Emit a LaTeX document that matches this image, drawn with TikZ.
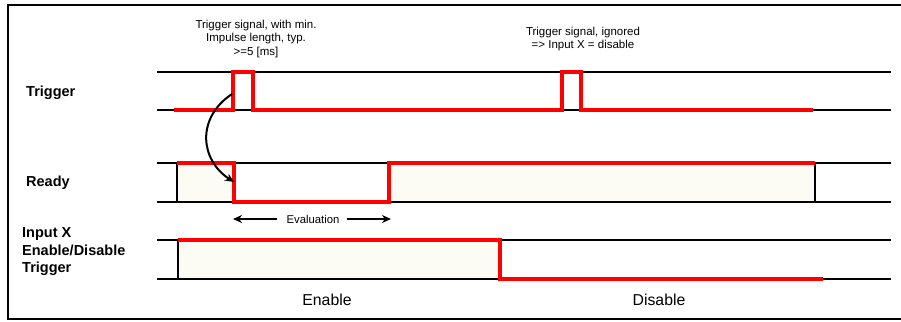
\documentclass[tikz,border=0pt]{standalone}
\usepackage{fontspec}
\setmainfont{Liberation Sans}
\usetikzlibrary{arrows.meta}
\definecolor{sigred}{RGB}{255,0,0}
\definecolor{cream}{RGB}{252,252,244}
\tikzset{
  rail/.style={line width=2pt,black},
  sig/.style={line width=3.8pt,sigred,line join=miter},
  edge/.style={line width=2pt,black},
  lbl/.style={font=\bfseries\fontsize{14.5}{17.5}\selectfont,anchor=west,align=left,inner sep=0pt},
  note/.style={font=\fontsize{11.5}{13.5}\selectfont,align=center,inner sep=0pt},
  state/.style={font=\fontsize{15.8}{18}\selectfont,inner sep=0pt},
  fillarea/.style={fill=cream,draw=none},
  arr/.style={line width=2pt,-{Stealth[length=9pt,width=8pt]}},
}
\begin{document}
\begin{tikzpicture}[x=1pt,y=-1pt]
\useasboundingbox (0,0) rectangle (901,321);
\fill[white] (0,0) rectangle (901,321);
% frame
\draw[line width=2.4pt] (8,320) -- (8,5) -- (905,5);
\draw[line width=1.2pt] (8,319) -- (905,319);

% fills
\fill[fillarea] (177,163) rectangle (234,202);
\fill[fillarea] (389,163) rectangle (815,202);
\fill[fillarea] (178,240) rectangle (500,279);

% rails
\coordinate (t1a) at (157,72);  \coordinate (t1b) at (891,72);
\coordinate (t0a) at (157,110); \coordinate (t0b) at (891,110);
\coordinate (r1a) at (157,163); \coordinate (r1b) at (891,163);
\coordinate (r0a) at (157,202); \coordinate (r0b) at (891,202);
\coordinate (x1a) at (157,240); \coordinate (x1b) at (891,240);
\coordinate (x0a) at (157,279); \coordinate (x0b) at (891,279);
\draw[rail] (t1a) -- (t1b);
\draw[rail] (t0a) -- (t0b);
\draw[rail] (r1a) -- (r1b);
\draw[rail] (r0a) -- (r0b);
\draw[rail] (x1a) -- (x1b);
\draw[rail] (x0a) -- (x0b);

% black edges
\draw[edge] (177,163) -- (177,202);
\draw[edge] (815,163) -- (815,202);
\draw[edge] (178,240) -- (178,279);

% signals
\draw[sig] (174,110) -- (233,110) -- (233,72) -- (253,72) -- (253,110) -- (562,110) -- (562,72) -- (581,72) -- (581,110) -- (813,110);
\draw[sig] (177,163) -- (234,163) -- (234,202) -- (389,202) -- (389,163) -- (815,163);
\draw[sig] (178,240) -- (500,240) -- (500,279) -- (823,279);

% curved arrow
\coordinate (cs) at (232,94);
\coordinate (ce) at (234,182);
\draw[arr] (cs) .. controls (196,118) and (200,160) .. (ce);

% labels
\node[lbl] (ltrig) at (26,93) {Trigger};
\node[lbl] (lready) at (26,183) {Ready};
\node[lbl] (linx) at (22,252) {Input X\\Enable/Disable\\Trigger};

\node[note] (n1) at (256,39) {Trigger signal, with min.\\Impulse length, typ.\\>=5 [ms]};
\node[note] (n2) at (583,39) {Trigger signal, ignored\\ => Input X = disable};

\node[note,font=\fontsize{11.3}{13}\selectfont] (ev) at (313,219) {Evaluation};
\coordinate (evl) at (233,219);
\coordinate (evr) at (391,219);
\draw[arr] ([xshift=-9pt]ev.west) -- (evl);
\draw[arr] ([xshift=7pt]ev.east) -- (evr);

\node[state] (en) at (327,300) {Enable};
\node[state] (dis) at (659,300) {Disable};
\end{tikzpicture}
\end{document}
